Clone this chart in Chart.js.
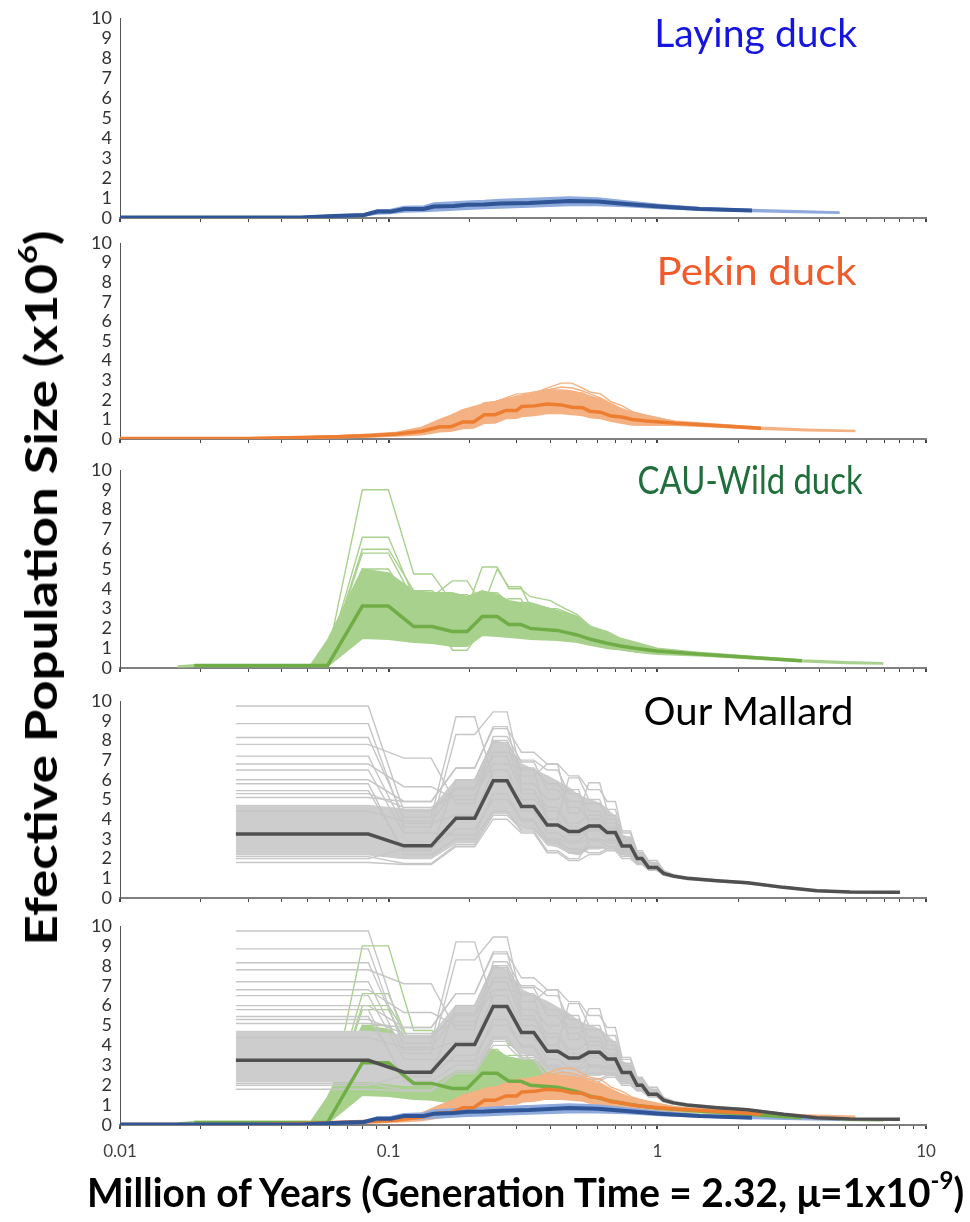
<!DOCTYPE html>
<html><head><meta charset="utf-8">
<script src="https://cdn.jsdelivr.net/npm/chart.js@4.4.1/dist/chart.umd.min.js"></script>
<style>
html,body{margin:0;padding:0;background:#fff;}
body{width:970px;height:1222px;position:relative;overflow:hidden;font-family:Lato,'Open Sans',sans-serif;}
canvas{position:absolute;left:0;}
.t{position:absolute;white-space:nowrap;line-height:1;transform-origin:50% 50%;}
</style></head><body>
<div id="root"></div>
<script>
// ---------------- DATA ----------------
const X_TICK_VALUES = [0.01, 0.1, 1, 10];
const X_TICK_LABELS = ['0.01', '0.1', '1', '10'];
const Y_MIN = 0, Y_MAX = 10;

const PANEL_TITLES = ['Laying duck', 'Pekin duck', 'CAU-Wild duck', 'Our Mallard', ''];

// Laying duck
const LAY_X    = [0.01, 0.047, 0.0626, 0.081, 0.0906, 0.1016, 0.1141, 0.1351, 0.1473, 0.1747, 0.196, 0.2265, 0.2603, 0.333, 0.47, 0.60, 0.765, 1.02, 1.44, 2.25, 3.3, 4.77];
const LAY_MAIN = [0.02, 0.03, 0.1, 0.15, 0.32, 0.32, 0.45, 0.45, 0.57, 0.6, 0.66, 0.68, 0.72, 0.75, 0.85, 0.82, 0.7, 0.57, 0.45, 0.37, null, null];
const LAY_LO   = [0.0, 0.01, 0.06, 0.1, 0.2, 0.22, 0.3, 0.32, 0.35, 0.4, 0.44, 0.47, 0.5, 0.55, 0.62, 0.62, 0.58, 0.48, 0.4, 0.33, 0.28, 0.24];
const LAY_HI   = [0.05, 0.06, 0.15, 0.2, 0.4, 0.42, 0.57, 0.6, 0.75, 0.8, 0.84, 0.87, 0.92, 0.97, 1.05, 1.0, 0.85, 0.68, 0.52, 0.42, 0.36, 0.3];

// Pekin duck
const PEK_X    = [0.01, 0.03, 0.047, 0.0638, 0.0866, 0.1074, 0.133, 0.155, 0.170, 0.189, 0.207, 0.227, 0.249, 0.273, 0.2995, 0.313, 0.349, 0.388, 0.439, 0.481, 0.527, 0.56, 0.614, 0.673, 0.737, 0.808, 0.913, 1.17, 1.58, 2.43, 3.61, 5.46];
const PEK_MAIN = [0.02, 0.03, 0.08, 0.12, 0.18, 0.25, 0.4, 0.62, 0.62, 0.87, 0.87, 1.24, 1.24, 1.46, 1.46, 1.66, 1.69, 1.79, 1.74, 1.62, 1.6, 1.42, 1.37, 1.17, 1.12, 1.0, 0.92, 0.8, 0.70, 0.55, null, null];
const PEK_LO   = [0.0, 0.0, 0.04, 0.07, 0.1, 0.15, 0.22, 0.37, 0.4, 0.54, 0.56, 0.8, 0.82, 1.04, 1.06, 1.15, 1.2, 1.3, 1.3, 1.25, 1.2, 1.1, 1.04, 0.9, 0.8, 0.72, 0.7, 0.7, 0.62, 0.5, 0.42, 0.38];
const PEK_HI   = [0.05, 0.06, 0.12, 0.17, 0.25, 0.35, 0.6, 1.0, 1.2, 1.5, 1.65, 1.8, 1.9, 2.05, 2.15, 2.25, 2.3, 2.45, 2.45, 2.4, 2.35, 2.15, 2.05, 1.7, 1.5, 1.35, 1.2, 0.9, 0.78, 0.6, 0.5, 0.44];
const PEK_BOOT_1 = [0.03, 0.04, 0.1, 0.15, 0.22, 0.3, 0.5, 0.9, 0.9, 1.24, 1.24, 1.7, 1.9, 2.0, 2.0, 2.2, 2.35, 2.6, 2.85, 2.85, 2.6, 2.4, 2.3, 1.9, 1.7, 1.4, 1.2, 0.88];
const PEK_BOOT_2 = [0.03, 0.04, 0.1, 0.15, 0.22, 0.3, 0.5, 0.7, 0.8, 1.1, 1.6, 1.6, 1.8, 2.0, 2.2, 2.2, 2.3, 2.5, 2.65, 2.6, 2.45, 2.3, 2.1, 1.8, 1.55, 1.35, 1.15, 0.85];
const PEK_BOOT_3 = [0.02, 0.03, 0.08, 0.12, 0.18, 0.25, 0.45, 0.8, 0.8, 1.5, 1.5, 1.85, 1.9, 2.1, 2.3, 2.3, 2.4, 2.5, 2.5, 2.45, 2.3, 2.2, 2.0, 1.75, 1.5, 1.3, 1.1, 0.85];

// CAU-Wild duck
const WILD_X    = [0.0164, 0.0189, 0.0513, 0.0592, 0.0798, 0.0998, 0.124, 0.145, 0.1725, 0.196, 0.223, 0.2535, 0.28, 0.31, 0.337, 0.40, 0.424, 0.503, 0.564, 0.65, 0.729, 0.841, 0.997, 1.405, 2.16, 3.45, 5.07, 6.94];
const WILD_MAIN = [null, 0.12, 0.12, 0.12, 3.13, 3.13, 2.09, 2.09, 1.84, 1.84, 2.6, 2.6, 2.2, 2.2, 2.0, 1.92, 1.9, 1.67, 1.45, 1.25, 1.11, 0.98, 0.86, 0.71, 0.54, 0.37, null, null];
const WILD_LO   = [0.05, 0.07, 0.07, 0.07, 1.5, 1.45, 1.3, 1.25, 1.1, 1.1, 1.65, 1.6, 1.55, 1.5, 1.45, 1.42, 1.4, 1.3, 1.15, 1.0, 0.92, 0.8, 0.7, 0.62, 0.48, 0.32, 0.23, 0.2];
const WILD_HI   = [0.1, 0.17, 0.17, 1.4, 5.0, 4.8, 3.9, 3.8, 3.8, 3.6, 3.9, 3.7, 3.4, 3.3, 3.3, 3.0, 2.9, 2.6, 2.1, 1.85, 1.5, 1.28, 1.0, 0.8, 0.6, 0.41, 0.31, 0.27];
const WILD_BOOT_1 = [null, 0.12, 0.12, 0.6, 9.0, 9.0, 4.75, 4.75, 3.3, 3.3, 3.5, 3.5, 2.9, 2.9, 2.6, 2.4, 2.3, 2.0, 1.7, 1.4, 1.2, 1.0];
const WILD_BOOT_2 = [null, 0.12, 0.12, 0.5, 6.6, 6.6, 3.6, 3.6, 4.4, 4.4, 3.2, 3.2, 3.5, 3.5, 2.8, 2.6, 2.5, 2.2, 1.8, 1.5, 1.25, 1.05];
const WILD_BOOT_3 = [null, 0.12, 0.12, 0.5, 6.0, 6.0, 3.9, 3.9, 3.0, 3.0, 5.1, 5.1, 4.0, 4.0, 3.6, 3.4, 3.2, 2.7, 2.1, 1.7, 1.35, 1.1];
const WILD_BOOT_4 = [null, 0.12, 0.12, 0.4, 5.8, 5.8, 3.4, 3.4, 3.7, 3.7, 3.0, 5.0, 4.1, 4.1, 3.1, 2.9, 2.8, 2.4, 1.9, 1.6, 1.3, 1.05];
const WILD_BOOT_5 = [null, 0.12, 0.12, 0.3, 5.0, 5.0, 3.0, 3.0, 0.9, 0.9, 2.0, 2.0, 1.8, 1.8, 1.6, 1.5, 1.5, 1.4, 1.2, 1.0, 0.95, 0.82];
const WILD_BOOT_6 = [null, 0.12, 0.12, 0.3, 4.5, 4.5, 3.8, 3.8, 3.5, 3.5, 3.8, 3.8, 3.3, 3.3, 3.2, 3.0, 3.0, 2.6, 2.0, 1.7, 1.35, 1.1];
const WILD_BOOT_7 = [null, 0.12, 0.12, 0.2, 1.6, 1.6, 1.4, 1.4, 1.5, 1.5, 1.8, 1.8, 1.7, 1.7, 1.6, 1.5, 1.45, 1.35, 1.2, 1.05, 0.95, 0.82];

// Our Mallard
const MAL_X    = [0.027, 0.084, 0.114, 0.144, 0.178, 0.209, 0.245, 0.276, 0.312, 0.347, 0.389, 0.426, 0.468, 0.51, 0.556, 0.61, 0.65, 0.698, 0.739, 0.794, 0.841, 0.877, 0.928, 0.997, 1.055, 1.15, 1.29, 1.67, 2.16, 2.95, 3.92, 5.22, 8.0];
const MAL_MAIN = [3.25, 3.25, 2.65, 2.65, 4.05, 4.05, 5.95, 5.95, 4.65, 4.65, 3.7, 3.7, 3.37, 3.37, 3.65, 3.65, 3.32, 3.32, 2.64, 2.64, 2.0, 2.0, 1.55, 1.55, 1.25, 1.11, 1.0, 0.87, 0.77, 0.54, 0.37, 0.30, 0.29];
const MAL_LO   = [2.2, 2.2, 2.0, 2.0, 2.8, 2.8, 4.3, 4.3, 3.6, 3.5, 2.7, 2.6, 2.3, 2.2, 2.5, 2.5, 2.6, 2.5, 2.2, 2.1, 1.8, 1.75, 1.45, 1.42, 1.17, 1.04, 0.94, 0.82, 0.72, 0.5, 0.34, 0.27, 0.26];
const MAL_HI   = [4.7, 4.7, 4.5, 4.5, 6.0, 6.0, 8.0, 7.8, 6.8, 6.5, 6.2, 5.9, 5.6, 5.2, 5.0, 4.8, 4.5, 4.1, 3.2, 3.0, 2.35, 2.25, 1.85, 1.72, 1.38, 1.19, 1.06, 0.92, 0.82, 0.58, 0.4, 0.32, 0.31];
const MAL_BOOT_1  = [9.75, 9.75, 4.4, 4.4, 5.6, 5.6, 7.9, 7.9, 5.5, 5.5, 4.0, 4.0, 3.2, 3.2, 3.5, 3.5, 3.2, 3.2, 2.7, 2.7, 2.0, 2.0, 1.6, 1.6, 1.25, 1.11];
const MAL_BOOT_2  = [8.85, 8.85, 3.8, 3.8, 4.2, 4.2, 6.5, 6.5, 5.0, 5.0, 4.4, 4.4, 3.6, 3.6, 3.0, 3.0, 2.8, 2.8, 2.4, 2.4, 1.9, 1.9, 1.5, 1.5, 1.2, 1.11];
const MAL_BOOT_3  = [8.15, 8.15, 4.1, 4.1, 9.2, 9.2, 6.0, 6.0, 4.4, 4.4, 3.3, 3.3, 2.9, 2.9, 3.4, 3.4, 3.0, 3.0, 2.5, 2.5, 2.0, 2.0, 1.6, 1.6, 1.25, 1.11];
const MAL_BOOT_4  = [7.8, 7.8, 7.1, 7.1, 4.8, 4.8, 8.2, 8.2, 6.9, 6.9, 5.5, 5.5, 4.6, 4.6, 4.0, 4.0, 3.5, 3.5, 2.8, 2.8, 2.1, 2.1, 1.7, 1.7, 1.3, 1.12];
const MAL_BOOT_5  = [7.2, 7.2, 3.6, 3.6, 8.3, 8.3, 9.45, 9.45, 6.2, 6.2, 6.8, 6.8, 4.3, 4.3, 5.85, 5.85, 4.5, 4.5, 3.3, 3.3, 2.3, 2.3, 1.8, 1.8, 1.35, 1.13];
const MAL_BOOT_6  = [6.8, 6.8, 5.65, 5.65, 5.0, 5.0, 7.4, 7.4, 7.0, 7.0, 6.5, 6.5, 5.3, 5.3, 4.4, 4.4, 3.8, 3.8, 2.9, 2.9, 2.2, 2.2, 1.7, 1.7, 1.3, 1.12];
const MAL_BOOT_7  = [6.5, 6.5, 3.3, 3.3, 3.2, 3.2, 5.3, 5.3, 3.9, 3.9, 2.8, 2.8, 2.3, 2.3, 2.6, 2.6, 2.5, 2.5, 2.2, 2.2, 1.8, 1.8, 1.45, 1.45, 1.2, 1.1];
const MAL_BOOT_8  = [6.0, 6.0, 4.9, 4.9, 6.6, 6.6, 8.7, 8.7, 5.8, 5.8, 5.0, 5.0, 5.5, 5.5, 3.7, 3.7, 3.3, 3.3, 2.7, 2.7, 2.0, 2.0, 1.6, 1.6, 1.25, 1.11];
const MAL_BOOT_9  = [5.8, 5.8, 2.2, 2.2, 3.0, 3.0, 4.4, 4.4, 3.4, 3.4, 2.4, 2.4, 2.0, 2.0, 2.9, 2.9, 2.6, 2.6, 2.3, 2.3, 1.8, 1.8, 1.5, 1.5, 1.2, 1.1];
const MAL_BOOT_10 = [5.45, 5.45, 2.4, 2.4, 6.0, 6.0, 8.0, 8.0, 6.5, 6.5, 4.0, 4.0, 6.1, 6.1, 5.0, 5.0, 4.0, 4.0, 3.0, 3.0, 2.3, 2.3, 1.75, 1.75, 1.3, 1.12];
const MAL_BOOT_11 = [2.1, 2.1, 1.75, 1.75, 2.7, 2.7, 4.2, 4.2, 3.5, 3.5, 2.9, 2.9, 2.5, 2.5, 2.3, 2.3, 2.5, 2.5, 2.1, 2.1, 1.75, 1.75, 1.45, 1.45, 1.18, 1.1];
const MAL_BOOT_12 = [4.4, 4.4, 3.9, 3.9, 5.5, 5.5, 7.2, 7.2, 5.3, 5.3, 4.6, 4.6, 3.8, 3.8, 4.2, 4.2, 3.6, 3.6, 2.9, 2.9, 2.1, 2.1, 1.65, 1.65, 1.28, 1.11];
const MAL_BOOT_13 = [1.8, 1.8, 1.7, 1.7, 2.6, 2.6, 4.0, 4.0, 3.3, 3.3, 2.3, 2.3, 1.9, 1.9, 2.2, 2.2, 2.4, 2.4, 2.0, 2.0, 1.7, 1.7, 1.4, 1.4, 1.15, 1.05];
const MAL_BOOT_14 = [5.1, 5.1, 4.9, 4.9, 6.6, 6.6, 8.6, 8.6, 7.4, 7.4, 6.8, 6.8, 6.2, 6.2, 5.5, 5.5, 4.9, 4.9, 3.4, 3.4, 2.4, 2.4, 1.9, 1.9, 1.4, 1.15];
const MAL_BOOT_15 = [2.0, 2.0, 2.5, 2.5, 3.5, 3.5, 5.0, 5.0, 4.0, 4.0, 3.0, 3.0, 2.8, 2.8, 3.0, 3.0, 2.9, 2.9, 2.4, 2.4, 1.9, 1.9, 1.5, 1.5, 1.2, 1.1];
const MAL_BOOT_16 = [5.3, 5.3, 4.6, 4.6, 5.2, 5.2, 6.8, 6.8, 6.6, 6.6, 5.8, 5.8, 4.9, 4.9, 4.8, 4.8, 4.2, 4.2, 3.1, 3.1, 2.3, 2.3, 1.75, 1.75, 1.32, 1.12];

// ---------------- STYLE / LAYOUT ----------------
const PANEL_TOP    = [18, 243, 470, 701, 926];
const PANEL_BOTTOM = [218, 439, 668, 898, 1125];
const PAD_TOP = 15;

const SPECIES = {
  lay:  {xs: LAY_X,  main: LAY_MAIN,  lo: LAY_LO,  hi: LAY_HI,  boots: [], band: '#8faadc', line: '#8faadc', mainColor: '#2f5597', mainW: 4},
  pek:  {xs: PEK_X,  main: PEK_MAIN,  lo: PEK_LO,  hi: PEK_HI,  boots: [PEK_BOOT_1, PEK_BOOT_2, PEK_BOOT_3], band: '#f4b183', line: '#f4b183', mainColor: '#ed7d31', mainW: 3.5},
  wild: {xs: WILD_X, main: WILD_MAIN, lo: WILD_LO, hi: WILD_HI, boots: [WILD_BOOT_1, WILD_BOOT_2, WILD_BOOT_3, WILD_BOOT_4, WILD_BOOT_5, WILD_BOOT_6, WILD_BOOT_7], band: '#a9d18e', line: '#a9d18e', mainColor: '#70ad47', mainW: 3.5},
  mal:  {xs: MAL_X,  main: MAL_MAIN,  lo: MAL_LO,  hi: MAL_HI,  boots: [MAL_BOOT_1, MAL_BOOT_2, MAL_BOOT_3, MAL_BOOT_4, MAL_BOOT_5, MAL_BOOT_6, MAL_BOOT_7, MAL_BOOT_8, MAL_BOOT_9, MAL_BOOT_10, MAL_BOOT_11, MAL_BOOT_12, MAL_BOOT_13, MAL_BOOT_14, MAL_BOOT_15, MAL_BOOT_16], band: '#cdcdcd', line: '#c6c6c6', mainColor: '#505050', mainW: 3.5}
};

function pts(xs, ys) {
  const out = [];
  for (let i = 0; i < ys.length; i++) out.push({x: xs[i], y: ys[i]});
  return out;
}
function underSets(s) {
  const base = {pointRadius: 0, tension: 0, spanGaps: false};
  const arr = [
    Object.assign({}, base, {data: pts(s.xs, s.lo), borderColor: s.band, backgroundColor: s.band, borderWidth: 1.5, fill: false}),
    Object.assign({}, base, {data: pts(s.xs, s.hi), borderColor: s.band, backgroundColor: s.band, borderWidth: 1.5, fill: '-1'})
  ];
  s.boots.forEach(b => arr.push(Object.assign({}, base, {data: pts(s.xs, b), borderColor: s.line, borderWidth: 1.4, fill: false})));
  return arr;
}
function mainSet(s) {
  return {data: pts(s.xs, s.main), borderColor: s.mainColor, borderWidth: s.mainW, pointRadius: 0, tension: 0, fill: false, spanGaps: false, borderJoinStyle: 'miter'};
}

const PANEL_SPECIES = [['lay'], ['pek'], ['wild'], ['mal'], ['wild', 'mal', 'pek', 'lay']];
const MAIN_ORDER_5 = ['wild', 'pek', 'lay', 'mal'];

const MINOR_TICKS = [];
[0.01, 0.1, 1].forEach(d => { for (let k = 1; k <= 9; k++) MINOR_TICKS.push(+(k * d).toPrecision(6)); });
MINOR_TICKS.push(10);

function labelFor(v) {
  for (let i = 0; i < X_TICK_VALUES.length; i++) {
    if (Math.abs(v - X_TICK_VALUES[i]) / X_TICK_VALUES[i] < 1e-6) return X_TICK_LABELS[i];
  }
  return '';
}
function isMajor(v) { return labelFor(v) !== ''; }

const root = document.getElementById('root');
for (let p = 0; p < 5; p++) {
  const last = p === 4;
  const xH = last ? 45 : 12;
  const h = (PANEL_BOTTOM[p] - PANEL_TOP[p]) + PAD_TOP + xH;
  const cv = document.createElement('canvas');
  cv.width = 970; cv.height = h;
  cv.style.top = (PANEL_TOP[p] - PAD_TOP) + 'px';
  cv.style.width = '970px'; cv.style.height = h + 'px';
  root.appendChild(cv);

  let datasets = [];
  PANEL_SPECIES[p].forEach(k => { datasets = datasets.concat(underSets(SPECIES[k])); });
  const mains = last ? MAIN_ORDER_5 : PANEL_SPECIES[p];
  mains.forEach(k => datasets.push(mainSet(SPECIES[k])));
  // later datasets drawn on top
  datasets.forEach((d, i) => { d.order = datasets.length - i; });

  new Chart(cv.getContext('2d'), {
    type: 'line',
    data: {datasets},
    options: {
      responsive: false, animation: false, events: [],
      layout: {padding: {top: PAD_TOP, right: 44, left: 0, bottom: 0}},
      plugins: {legend: {display: false}, tooltip: {enabled: false}},
      scales: {
        x: {
          type: 'logarithmic', min: X_TICK_VALUES[0], max: X_TICK_VALUES[X_TICK_VALUES.length - 1],
          afterBuildTicks: s => { s.ticks = MINOR_TICKS.map(v => ({value: v, major: isMajor(v)})); },
          afterFit: s => { s.height = xH; },
          grid: {display: true, drawOnChartArea: false, drawTicks: true, tickLength: 4,
                 color: '#444', lineWidth: c => (c.tick && isMajor(c.tick.value)) ? 2 : 1},
          border: {display: true, color: '#7f7f7f', width: 2},
          ticks: {display: last, autoSkip: false, maxRotation: 0, minRotation: 0, padding: 12,
                  font: {family: 'Lato', size: 17}, color: '#404040',
                  callback: v => labelFor(v)}
        },
        y: {
          min: Y_MIN, max: Y_MAX,
          afterFit: s => { s.width = 120; s.paddingTop = 0; s.paddingBottom = 0; },
          grid: {display: false, drawTicks: false},
          border: {display: true, color: '#555', width: 1},
          ticks: {stepSize: 1, autoSkip: false, padding: 8, font: {family: 'Lato', size: 18}, color: '#333'}
        }
      }
    }
  });
}

// ---------------- TEXT ----------------
function place(html, opt) {
  const el = document.createElement('div');
  el.className = 't';
  el.innerHTML = html;
  el.style.fontSize = opt.fs + 'px';
  el.style.fontWeight = opt.bold ? '700' : '400';
  el.style.color = opt.color || '#000';
  el.style.left = '0px'; el.style.top = '0px';
  document.body.appendChild(el);
  const w = el.getBoundingClientRect().width;
  const hgt = el.getBoundingClientRect().height;
  const sx = opt.width / w;
  if (opt.rotate) {
    el.style.left = (opt.cx - w / 2) + 'px';
    el.style.top = (opt.cy - hgt / 2) + 'px';
    el.style.transform = 'rotate(-90deg) scale(' + sx + ',1)';
  } else {
    el.style.left = (opt.cx - w / 2) + 'px';
    el.style.top = (opt.baseline - 0.887 * opt.fs) + 'px';
    el.style.transform = 'scale(' + sx + ',1)';
  }
  return el;
}
const TITLE_COLORS = ['#1515e0', '#f15a29', '#1f6e3b', '#000000'];
const TITLE_POS = [
  {cx: 756, baseline: 47, width: 203},
  {cx: 757, baseline: 285, width: 200},
  {cx: 750, baseline: 494, width: 225},
  {cx: 748, baseline: 725, width: 210}
];
for (let i = 0; i < 4; i++) {
  place(PANEL_TITLES[i], Object.assign({fs: 38, color: TITLE_COLORS[i]}, TITLE_POS[i]));
}
place('Million of Years (Generation Time = 2.32, μ=1x10<span style="font-size:0.62em;position:relative;top:-0.72em">-9</span>)',
      {fs: 40, bold: true, color: '#000', cx: 526, baseline: 1207, width: 877});
place('Efective Population Size (x10<span style="font-size:0.62em;position:relative;top:-0.72em">6</span>)',
      {fs: 44, bold: true, color: '#000', cx: 40, cy: 588, width: 715, rotate: true});
</script>
</body></html>
